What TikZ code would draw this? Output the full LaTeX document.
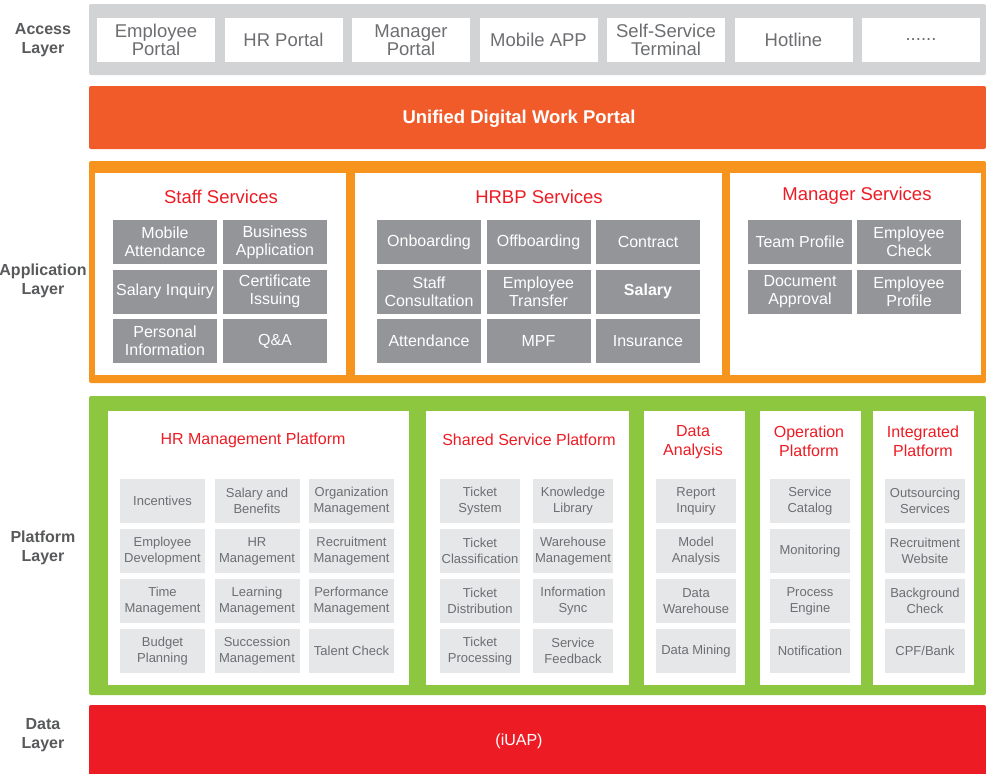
\documentclass[tikz,border=0pt]{standalone}
\usepackage{fontspec}
\setmainfont{Liberation Sans}
\definecolor{accessgray}{HTML}{D1D3D4}
\definecolor{portalorange}{HTML}{F15A29}
\definecolor{apporange}{HTML}{F7941D}
\definecolor{platgreen}{HTML}{8DC63F}
\definecolor{datared}{HTML}{ED1C24}
\definecolor{titlered}{HTML}{ED1C24}
\definecolor{darkitem}{HTML}{939598}
\definecolor{lightitem}{HTML}{E6E7E8}
\definecolor{labelgray}{HTML}{58595B}
\definecolor{textgray}{HTML}{6D6E71}

\tikzset{
  layerlabel/.style={align=center, text=labelgray, font=\fontsize{16}{19}\selectfont\bfseries},
  portalbox/.style={fill=white, minimum width=118pt, minimum height=44pt, inner sep=0pt, align=center, text=textgray, font=\fontsize{18.5}{18}\selectfont},
  appitem/.style={fill=darkitem, minimum width=104pt, minimum height=44pt, inner sep=0pt, align=center, text=white, font=\fontsize{16}{18}\selectfont},
  platitem/.style={fill=lightitem, minimum height=44pt, inner sep=0pt, align=center, text=textgray, font=\fontsize{13}{16}\selectfont},
  apptitle/.style={text=titlered, font=\fontsize{18.5}{20}\selectfont},
  plattitle/.style={align=center, text=titlered, font=\fontsize{16}{19}\selectfont}
}

\begin{document}
\begin{tikzpicture}[x=1pt,y=-1pt]
        \useasboundingbox (0,0) rectangle (986,774);
        % layer names
        \node[layerlabel] (accesslabel) at (43,40) {Access\\Layer};
        \node[layerlabel] (applabel) at (43,281) {Application\\Layer};
        \node[layerlabel] (platlabel) at (43,548) {Platform\\Layer};
        \node[layerlabel] (datalabel) at (43,735) {Data\\Layer};
        % access layer
        \fill[accessgray, rounded corners=2pt] (89,4) rectangle (986,75);
        \foreach \i/\t in {0/{Employee\\Portal}, 1/{HR Portal}, 2/{Manager\\Portal}, 3/{Mobile APP}, 4/{Self-Service\\Terminal}, 5/{Hotline}, 6/{......}} {
            \node[portalbox] (portal\i) at ({156+127.5*\i},40) {\t};
        }
        % unified portal
        \fill[portalorange, rounded corners=2pt] (89,86) rectangle (986,149);
        \node[text=white, font=\fontsize{18.5}{20}\selectfont\bfseries] (unified) at (519,119) {Unified Digital Work Portal};
        % application layer
        \fill[apporange, rounded corners=2pt] (89,161) rectangle (986,383);
        \fill[white] (95,173) rectangle (346,375);
        \fill[white] (355,173) rectangle (722,375);
        \fill[white] (730,173) rectangle (981,375);
        \node[apptitle] (stafftitle) at (221,197) {Staff Services};
        \node[apptitle] (hrbptitle) at (539,197) {HRBP Services};
        \node[apptitle] (mgrtitle) at (857,196) {Manager Services};
        \foreach \c/\r/\t in {0/0/{Mobile\\Attendance}, 1/0/{Business\\Application}, 0/1/{Salary Inquiry}, 1/1/{Certificate\\Issuing}, 0/2/{Personal\\Information}, 1/2/{Q\&A}} {
            \node[appitem] (staff\c\r) at ({165+110*\c},{242+49.5*\r}) {\t};
        }
        \foreach \c/\r/\t in {0/0/{Onboarding}, 1/0/{Offboarding}, 2/0/{Contract}, 0/1/{Staff\\Consultation}, 1/1/{Employee\\Transfer}, 2/1/{\bfseries Salary}, 0/2/{Attendance}, 1/2/{MPF}, 2/2/{Insurance}} {
            \node[appitem] (hrbp\c\r) at ({429+109.5*\c},{242+49.5*\r}) {\t};
        }
        \foreach \c/\r/\t in {0/0/{Team Profile}, 1/0/{Employee\\Check}, 0/1/{Document\\Approval}, 1/1/{Employee\\Profile}} {
            \node[appitem] (mgr\c\r) at ({800+109*\c},{242+50*\r}) {\t};
        }
        % platform layer
        \fill[platgreen, rounded corners=2pt] (89,396) rectangle (986,695);
        \fill[white] (108,411) rectangle (409,685);
        \fill[white] (426,411) rectangle (629,685);
        \fill[white] (644,411) rectangle (745,685);
        \fill[white] (760,411) rectangle (861,685);
        \fill[white] (873,411) rectangle (974,685);
        \node[plattitle] (hrmtitle) at (253,440) {HR Management Platform};
        \node[plattitle] (sharedtitle) at (529,440) {Shared Service Platform};
        \node[plattitle] (datatitle) at (693,442) {Data\\Analysis};
        \node[plattitle] (optitle) at (809,441) {Operation\\Platform};
        \node[plattitle] (inttitle) at (923,441) {Integrated\\Platform};
        \foreach \c/\r/\t in {0/0/{Incentives}, 1/0/{Salary and\\Benefits}, 2/0/{Organization\\Management},
                              0/1/{Employee\\Development}, 1/1/{HR\\Management}, 2/1/{Recruitment\\Management},
                              0/2/{Time\\Management}, 1/2/{Learning\\Management}, 2/2/{Performance\\Management},
                              0/3/{Budget\\Planning}, 1/3/{Succession\\Management}, 2/3/{Talent Check}} {
            \node[platitem, minimum width=85pt] (hrm\c\r) at ({162.5+94.5*\c},{501+50*\r}) {\t};
        }
        \foreach \c/\r/\t in {0/0/{Ticket\\System}, 1/0/{Knowledge\\Library}, 0/1/{Ticket\\Classification}, 1/1/{Warehouse\\Management},
                              0/2/{Ticket\\Distribution}, 1/2/{Information\\Sync}, 0/3/{Ticket\\Processing}, 1/3/{Service\\Feedback}} {
            \node[platitem, minimum width=80pt] (shared\c\r) at ({480+93*\c},{501+50*\r}) {\t};
        }
        \foreach \r/\t in {0/{Report\\Inquiry}, 1/{Model\\Analysis}, 2/{Data\\Warehouse}, 3/{Data Mining}} {
            \node[platitem, minimum width=80pt] (data\r) at (696,{501+50*\r}) {\t};
        }
        \foreach \r/\t in {0/{Service\\Catalog}, 1/{Monitoring}, 2/{Process\\Engine}, 3/{Notification}} {
            \node[platitem, minimum width=80pt] (op\r) at (810,{501+50*\r}) {\t};
        }
        \foreach \r/\t in {0/{Outsourcing\\Services}, 1/{Recruitment\\Website}, 2/{Background\\Check}, 3/{CPF/Bank}} {
            \node[platitem, minimum width=80pt] (int\r) at (925,{501+50*\r}) {\t};
        }
        % data layer
        \fill[datared, rounded corners=2pt] (89,705) rectangle (986,780);
        \node[text=white, font=\fontsize{16}{18}\selectfont] (iuap) at (519,741) {(iUAP)};
\end{tikzpicture}
\end{document}
